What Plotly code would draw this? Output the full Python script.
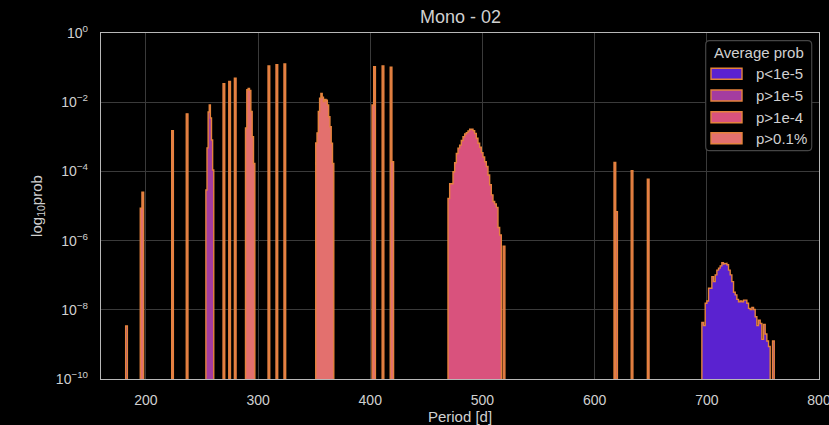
import plotly.graph_objects as go

# ---------------- data ----------------
categories = ["p<1e-5", "p>1e-5", "p>1e-4", "p>0.1%"]

# y-axis ticks
y_tickvals = [1e-10, 1e-8, 1e-6, 1e-4, 1e-2, 1e0]
y_ticktext = ["10<sup>\u221210</sup>", "10<sup>\u22128</sup>", "10<sup>\u22126</sup>",
              "10<sup>\u22124</sup>", "10<sup>\u22122</sup>", "10<sup>0</sup>"]
x_tickvals = [200, 300, 400, 500, 600, 700, 800]

# Each alias peak: left edge of first bin [d], bin width [d], probability per bin
a182_left, a182_w, a182_p = 182.0, 1.5, [3.4e-9]
a196_left, a196_w, a196_p = 195.0, 1.5, [8.7e-6, 2.5e-5]
a224_left, a224_w, a224_p = 223.0, 1.5, [1.5e-3]
a237_left, a237_w, a237_p = 236.0, 1.5, [4.6e-3]
a257_left, a257_w, a257_p = 253.5, 1.0, [2.9e-5, 4.8e-4, 5.2e-3, 8.3e-3, 3.5e-3, 8.1e-4, 1.1e-4]
a270_left, a270_w, a270_p = 268.8, 1.5, [3.4e-2]
a275_left, a275_w, a275_p = 273.9, 1.5, [4.0e-2]
a280_left, a280_w, a280_p = 278.9, 1.5, [4.9e-2]
a292_left, a292_w, a292_p = 288.8, 1.19, [1.8e-3, 2.3e-2, 2.5e-2, 2.2e-2, 5.4e-3, 1.0e-3, 1.7e-4]
a310_left, a310_w, a310_p = 308.9, 1.5, [0.111]
a317_left, a317_w, a317_p = 316.0, 1.5, [0.121]
a324_left, a324_w, a324_p = 323.1, 1.5, [0.127]
a358_left, a358_w, a358_p = 351.4, 1.15, [6.6e-4, 1.3e-3, 5.4e-3, 1.3e-2, 1.8e-2, 1.4e-2, 1.05e-2,
                                          1.2e-2, 1.15e-2, 8.3e-3, 3.8e-3, 1.95e-3, 6.5e-4, 1.7e-4]
a403_left, a403_w, a403_p = 401.6, 1.5, [8.3e-3, 0.107]
a411_left, a411_w, a411_p = 410.6, 1.5, [0.112]
a419_left, a419_w, a419_p = 417.8, 1.5, [0.102, 1.9e-4]
a490_left, a490_w, a490_p = 469.3, 1.485, [
    1.66e-5, 4.4e-5, 4.4e-5, 9.8e-5, 1.78e-4, 3.3e-4, 4.7e-4, 5.75e-4, 7.8e-4, 1.0e-3,
    1.2e-3, 1.32e-3, 1.48e-3, 1.66e-3, 1.66e-3, 1.51e-3, 1.26e-3, 9.1e-4, 6.5e-4, 5.0e-4,
    3.5e-4, 2.6e-4, 1.9e-4, 1.38e-4, 7.9e-5, 4.1e-5, 2.1e-5, 1.35e-5, 1.15e-5, 9.1e-6,
    2.4e-6, 1.45e-6]
a519_left, a519_w, a519_p = 518.5, 1.5, [6.9e-7]
a618_left, a618_w, a618_p = 617.3, 1.5, [1.8e-4]
a620_left, a620_w, a620_p = 618.8, 1.5, [6.9e-6]
a633_left, a633_w, a633_p = 632.6, 1.5, [1.05e-4]
a648_left, a648_w, a648_p = 647.0, 1.5, [6.0e-5]
a725_left, a725_w, a725_p = 695.6, 1.485, [
    4.3e-9, 3.5e-9, 1.55e-8, 1.8e-8, 4.2e-8, 4.2e-8, 9.1e-8, 6.5e-8, 1.02e-7, 1.4e-7,
    1.6e-7, 1.86e-7, 2.3e-7, 2.1e-7, 2.2e-7, 2.0e-7, 1.4e-7, 1.02e-7, 6.5e-8, 3.2e-8,
    2.7e-8, 2.0e-8, 1.7e-8, 1.8e-8, 1.7e-8, 1.9e-8, 1.9e-8, 1.55e-8, 1.1e-8, 1.02e-8,
    1.17e-8, 1.02e-8, 6.3e-9, 3.5e-9, 5.0e-9, 4.0e-9, 1.4e-9, 3.8e-9, 2.0e-9, 1.26e-9,
    8.7e-10]
a759_left, a759_w, a759_p = 758.6, 1.5, [1.25e-9]

# which average-probability class each alias belongs to
aliases = {
    "p>0.1%": [(a196_left, a196_w, a196_p), (a224_left, a224_w, a224_p), (a237_left, a237_w, a237_p),
               (a270_left, a270_w, a270_p), (a275_left, a275_w, a275_p), (a280_left, a280_w, a280_p),
               (a292_left, a292_w, a292_p), (a310_left, a310_w, a310_p), (a317_left, a317_w, a317_p),
               (a324_left, a324_w, a324_p), (a358_left, a358_w, a358_p), (a403_left, a403_w, a403_p),
               (a411_left, a411_w, a411_p), (a419_left, a419_w, a419_p), (a618_left, a618_w, a618_p),
               (a633_left, a633_w, a633_p), (a648_left, a648_w, a648_p)],
    "p>1e-5": [(a257_left, a257_w, a257_p), (a620_left, a620_w, a620_p)],
    "p>1e-4": [(a490_left, a490_w, a490_p), (a519_left, a519_w, a519_p)],
    "p<1e-5": [(a182_left, a182_w, a182_p), (a725_left, a725_w, a725_p), (a759_left, a759_w, a759_p)],
}

# ---------------- styles ----------------
fills = {"p<1e-5": "#5a22d0", "p>1e-5": "#a43ca0", "p>1e-4": "#d9527d", "p>0.1%": "#e3706e"}
EDGE = "#e5833c"
TXT = "#d0d0d0"
FONT = "Liberation Sans, Arial, sans-serif"
W, H = 829, 425
L, R, T, B = 101, 819, 33, 379   # plot area in pixels
FLOOR = 1e-12  # below the visible range, so bars reach the axis


def step_outline(left, width, probs):
    xs, ys = [left], [FLOOR]
    for i, p in enumerate(probs):
        x0 = left + i * width
        xs += [x0, x0 + width]
        ys += [p, p]
    xs.append(left + len(probs) * width)
    ys.append(FLOOR)
    return xs, ys


fig = go.Figure()
for cat in ["p>0.1%", "p>1e-5", "p>1e-4", "p<1e-5"]:
    X, Y = [], []
    for left, width, probs in aliases[cat]:
        xs, ys = step_outline(left, width, probs)
        X += xs + [None]
        Y += ys + [None]
    fig.add_trace(go.Scatter(x=X, y=Y, mode="lines", fill="toself", fillcolor=fills[cat],
                             line=dict(color=EDGE, width=1.4), name=cat, showlegend=False,
                             hoverinfo="skip"))

fig.update_layout(
    width=W, height=H,
    margin=dict(l=L, r=W - R, t=T, b=H - B, pad=0),
    paper_bgcolor="black", plot_bgcolor="black",
    font=dict(family=FONT, color=TXT, size=14),
    title=dict(text="Mono - 02", x=460.5 / W, xanchor="center",
               y=1 - 17 / H, yanchor="middle",
               font=dict(size=18, color=TXT)),
    showlegend=False,
)
fig.update_xaxes(range=[160, 800], tickvals=x_tickvals, showgrid=True, gridcolor="#3a3a3a",
                 gridwidth=1, showline=True, mirror=True, linecolor="#b8b8b8", linewidth=1.3,
                 ticks="", ticklabelstandoff=8, zeroline=False, automargin=False,
                 ticklabeloverflow="allow", tickfont=dict(size=14),
                 title=dict(text="Period [d]", font=dict(size=15), standoff=6))
fig.update_yaxes(type="log", range=[-10, 0], tickvals=y_tickvals, ticktext=y_ticktext,
                 showgrid=True, gridcolor="#3a3a3a", gridwidth=1, showline=True, mirror=True,
                 linecolor="#b8b8b8", linewidth=1.3, ticks="", ticklabelstandoff=9,
                 zeroline=False, automargin=False, ticklabeloverflow="allow",
                 tickfont=dict(size=14),
                 title=dict(text="log<sub>10</sub>prob", font=dict(size=15), standoff=9))


# ---------------- legend (drawn as shapes + text) ----------------
def px(xp):
    return (xp - L) / (R - L)


def py(yp):
    return (B - yp) / (B - T)


bx0, bx1, by0, by1, rad = 705.7, 811.7, 40.7, 150.7, 4
rx, ry = rad / (R - L), rad / (B - T)
x0, x1, y0, y1 = px(bx0), px(bx1), py(by1), py(by0)
path = (f"M{x0 + rx},{y1} L{x1 - rx},{y1} Q{x1},{y1} {x1},{y1 - ry} "
        f"L{x1},{y0 + ry} Q{x1},{y0} {x1 - rx},{y0} L{x0 + rx},{y0} "
        f"Q{x0},{y0} {x0},{y0 + ry} L{x0},{y1 - ry} Q{x0},{y1} {x0 + rx},{y1} Z")
fig.add_shape(type="path", path=path, xref="paper", yref="paper", layer="above",
              fillcolor="black", line=dict(color="#454545", width=1.2))
fig.add_annotation(x=px(758.5), y=py(53), xref="paper", yref="paper", text="Average prob",
                   showarrow=False, xanchor="center", yanchor="middle",
                   font=dict(size=15, color=TXT))
row_y = [73.8, 95.5, 117.2, 138.2]
for cat, cy in zip(categories, row_y):
    fig.add_shape(type="rect", xref="paper", yref="paper", layer="above",
                  x0=px(711), x1=px(742), y0=py(cy + 5.5), y1=py(cy - 5.5),
                  fillcolor=fills[cat], line=dict(color=EDGE, width=1.4))
    fig.add_annotation(x=px(753.5), y=py(cy), xref="paper", yref="paper", text=cat,
                       showarrow=False, xanchor="left", yanchor="middle",
                       font=dict(size=15, color=TXT))

fig.write_html("out.html", config={"displayModeBar": False},
               post_script="document.body.style.margin='0';"
                           "document.body.style.background='black';")
